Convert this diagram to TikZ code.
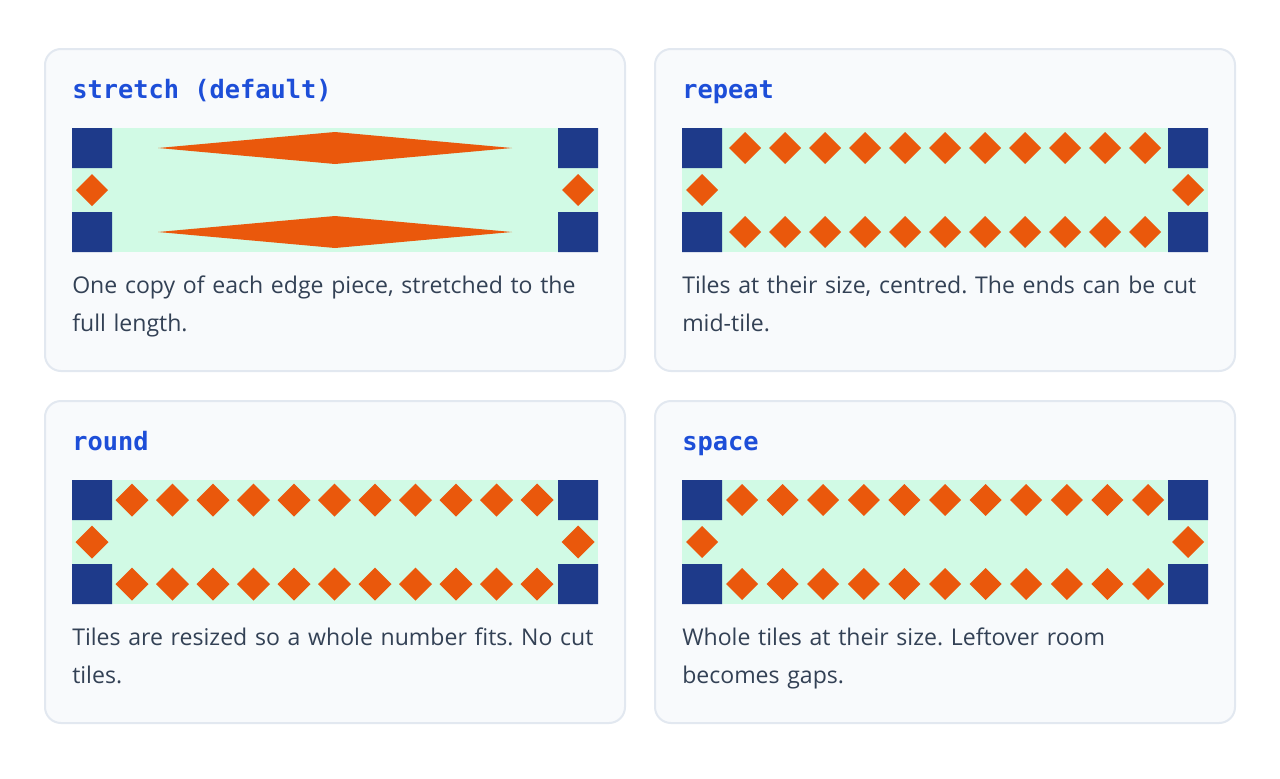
\documentclass[tikz,border=0pt]{standalone}
\usepackage{fontspec}
\setmainfont{Open Sans}
\setmonofont{DejaVu Sans Mono}
\frenchspacing
\definecolor{cardbg}{HTML}{F8FAFC}
\definecolor{cardline}{HTML}{E2E8F0}
\definecolor{mint}{HTML}{D1FAE5}
\definecolor{navy}{HTML}{1E3A8A}
\definecolor{tileor}{HTML}{EA580C}
\definecolor{titleblue}{HTML}{1D4ED8}
\definecolor{bodytxt}{HTML}{334155}
\newcommand\dia[3]{\fill[tileor] ({#1-#3},#2)--(#1,{#2-#3})--({#1+#3},#2)--(#1,{#2+#3})--cycle;}
\begin{document}
\hyphenpenalty=10000
\exhyphenpenalty=10000
\begin{tikzpicture}[x=0.75pt,y=-0.75pt,
  card/.style={draw=cardline,fill=cardbg,line width=1.5pt,rounded corners=12pt},
  ttl/.style={anchor=base west,inner sep=0,font=\ttfamily\bfseries\fontsize{19}{22}\selectfont,text=titleblue},
  body/.style={anchor=north west,inner sep=0,align=left,font=\fontsize{17.3}{28}\selectfont,text=bodytxt,text width=392pt}]
\useasboundingbox (0,0) rectangle (1280,778);
\fill[white] (0,0) rectangle (1280,778);
% cards
\foreach \cx/\cy/\n in {45/49/a,655/49/b,45/401/c,655/401/d}{
  \draw[card] (\cx,\cy) rectangle ++(580,322);
  \begin{scope}[shift={(\cx+27,\cy+79)}]
    \fill[mint] (0,0) rectangle (526,124);
    \fill[navy] (0,0) rectangle (40,40) (486,0) rectangle (526,40)
      (0,84) rectangle (40,124) (486,84) rectangle (526,124);
  \end{scope}
}
% titles
\node[ttl] (t1) at (72,98) {stretch (default)};
\node[ttl] (t2) at (682,98) {repeat};
\node[ttl] (t3) at (72,450) {round};
\node[ttl] (t4) at (682,450) {space};
% stretch
\fill[tileor] (158,148)--(335,132)--(512,148)--(335,164)--cycle;
\fill[tileor] (158,232)--(335,216)--(512,232)--(335,248)--cycle;
\dia{92}{190}{16}\dia{578}{190}{16}
% repeat
\foreach \i in {0,...,10}{\dia{745+40*\i}{148}{16}\dia{745+40*\i}{232}{16}}
\dia{702}{190}{16}\dia{1188}{190}{16}
% round
\foreach \i in {0,...,10}{\dia{132+40.5*\i}{500}{16.5}\dia{132+40.5*\i}{584}{16.5}}
\dia{92}{542}{16.5}\dia{578}{542}{16.5}
% space
\foreach \i in {0,...,10}{\dia{742+40.6*\i}{500}{16}\dia{742+40.6*\i}{584}{16}}
\dia{702}{542}{16}\dia{1188}{542}{16}
% bodies
\node[body] (b1) at (72,276) {One copy of each edge piece, stretched to the full length.};
\node[body] (b2) at (682,276) {Tiles at their size, centred. The ends can be cut \mbox{mid-tile}.};
\node[body] (b3) at (72,628) {Tiles are resized so a whole number fits. No cut tiles.};
\node[body] (b4) at (682,628) {Whole tiles at their size. Leftover room becomes gaps.};
\end{tikzpicture}
\end{document}
